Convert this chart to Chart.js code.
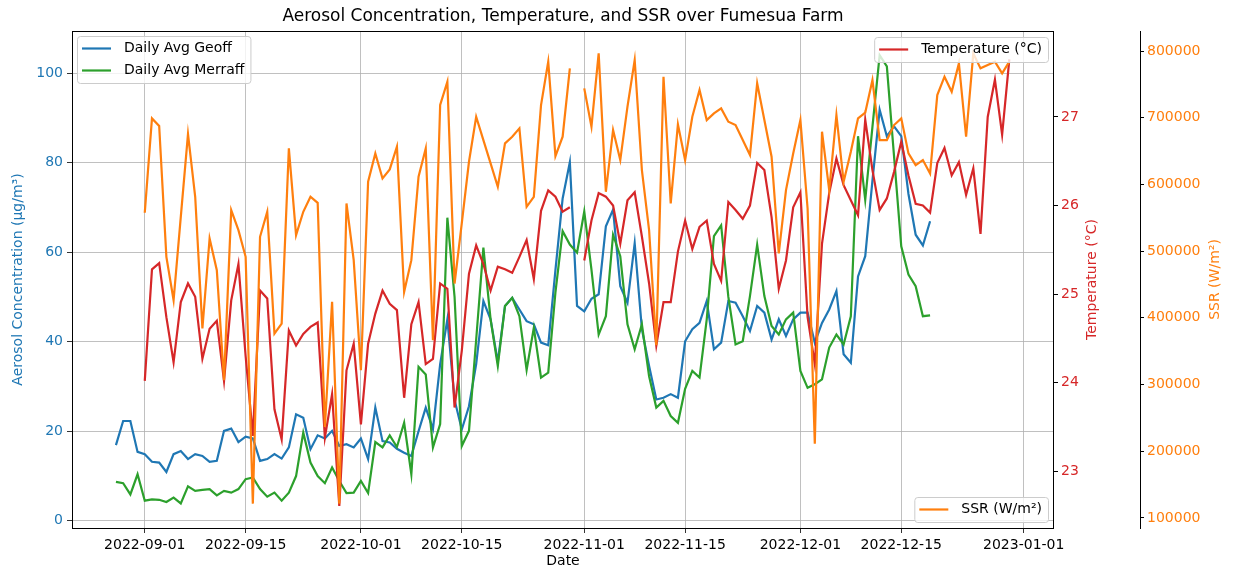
<!DOCTYPE html>
<html>
<head>
<meta charset="utf-8">
<script src="https://cdn.jsdelivr.net/npm/chart.js@4"></script>
<style>
  html, body { margin: 0; padding: 0; background: #fff; }
  #wrap { width: 1235px; height: 571px; position: relative; }
</style>
</head>
<body>
<div id="wrap"><canvas id="chart"></canvas></div>
<script>
// daily series
const aerosolStart = "2022-08-28";
const weatherStart = "2022-09-01";

const geoff = [
  16.9, 22.3, 22.3, 15.4, 14.9, 13.2, 13.0, 10.9, 14.9, 15.6,
  13.8, 14.9, 14.5, 13.2, 13.4, 20.1, 20.6, 17.6, 18.8, 18.4,
  13.4, 13.8, 14.9, 13.9, 16.4, 23.8, 23.0, 16.0, 19.1, 18.4,
  20.1, 16.7, 17.1, 16.4, 18.4, 13.8, 25.3, 17.8, 17.5, 16.1,
  15.2, 14.5, 20.0, 25.3, 20.5, 35.0, 45.0, 27.0, 20.4, 25.6,
  35.0, 49.1, 45.0, 35.5, 48.0, 49.8, 47.2, 44.6, 43.9, 39.8,
  39.2, 56.0, 72.0, 80.1, 48.0, 46.8, 49.6, 50.6, 65.8, 69.5,
  52.4, 48.7, 62.0, 42.8, 34.6, 27.1, 27.5, 28.3, 27.5, 40.1,
  42.8, 44.2, 49.1, 38.3, 39.8, 49.1, 48.7, 45.7, 42.4, 48.0,
  46.5, 40.5, 45.0, 41.3, 45.0, 46.5, 46.5, 39.8, 44.2, 47.2,
  51.3, 37.2, 35.3, 54.6, 59.1, 76.0, 91.8, 85.9, 88.1, 85.9,
  73.0, 63.9, 61.5, 66.9
];

const merraff = [
  8.7, 8.4, 5.9, 10.4, 4.5, 4.8, 4.7, 4.2, 5.2, 3.9,
  7.7, 6.7, 6.9, 7.1, 5.7, 6.7, 6.3, 7.1, 9.3, 9.7,
  7.1, 5.4, 6.3, 4.5, 6.3, 10.0, 19.7, 13.0, 10.0, 8.4,
  11.9, 8.9, 6.2, 6.3, 8.9, 6.2, 17.6, 16.4, 19.1, 16.5,
  21.9, 10.4, 34.4, 32.7, 16.4, 21.6, 67.7, 50.0, 16.7, 20.1,
  40.5, 61.0, 45.0, 34.6, 48.0, 49.8, 45.7, 33.7, 43.1, 32.0,
  33.1, 51.0, 64.7, 61.7, 59.9, 69.1, 56.1, 41.6, 45.7, 63.9,
  59.1, 43.9, 38.3, 43.9, 32.3, 25.3, 26.8, 23.4, 21.9, 29.5,
  33.5, 32.0, 45.0, 63.6, 66.0, 50.0, 39.4, 40.1, 50.2, 61.7,
  50.2, 43.5, 41.6, 45.0, 46.5, 33.5, 29.7, 30.5, 31.6, 38.7,
  41.6, 39.4, 45.7, 85.9, 71.7, 88.0, 104.0, 101.5, 81.4, 61.3,
  55.0, 52.4, 45.7, 45.9
];

const temperature = [
  24.02, 25.28, 25.35, 24.74, 24.23, 24.91, 25.12, 24.97, 24.27, 24.61,
  24.70, 24.02, 24.93, 25.34, 24.30, 23.40, 25.04, 24.95, 23.70, 23.36,
  24.59, 24.42, 24.55, 24.63, 24.68, 23.38, 23.87, 22.61, 24.14, 24.44,
  23.53, 24.44, 24.78, 25.04, 24.89, 24.82, 23.83, 24.66, 24.91, 24.21,
  24.27, 25.12, 25.06, 23.72, 24.36, 25.23, 25.55, 25.34, 25.04, 25.31,
  25.28, 25.24, 25.42, 25.61, 25.17, 25.94, 26.17, 26.10, 25.93, 25.98,
  null, 25.38, 25.83, 26.14, 26.10, 26.00, 25.57, 26.06, 26.15, 25.65,
  25.12, 24.42, 24.91, 24.91, 25.48, 25.83, 25.51, 25.76, 25.83, 25.34,
  25.15, 26.04, 25.95, 25.85, 26.00, 26.48, 26.40, 25.87, 25.06, 25.38,
  25.98, 26.15, 24.74, 24.21, 25.57, 26.14, 26.53, 26.23, 26.06, 25.89,
  26.97, 26.40, 25.95, 26.08, 26.38, 26.72, 26.34, 26.02, 26.00, 25.92,
  26.48, 26.65, 26.34, 26.49, 26.12, 26.42, 25.68, 27.00, 27.42, 26.80,
  27.65
];

const ssr = [
  557500, 699000, 687500, 491500, 426500, 551500, 675500, 581500, 384000, 519000,
  471500, 306500, 561500, 531500, 491500, 121500, 521500, 559000, 376500, 391500,
  654000, 524000, 559000, 581500, 572500, 236500, 424000, 121500, 571500, 486500,
  321500, 604000, 646500, 609000, 622500, 656500, 439000, 486500, 611500, 654000,
  366500, 719000, 754000, 451500, 541500, 634000, 701500, 666500, 631500, 596500,
  661500, 671500, 684000, 566500, 581500, 719000, 784000, 642500, 671500, 774000,
  null, 744000, 686500, 796500, 589000, 681500, 636500, 716500, 786500, 621500,
  531500, 359000, 761500, 571500, 690000, 636500, 701500, 741500, 696500, 706500,
  714000, 694000, 689000, 666500, 644000, 751500, 696500, 641500, 496500, 591500,
  646500, 696500, 564000, 211500, 679000, 591500, 704000, 604000, 649000, 699000,
  707500, 756500, 666500, 666500, 689000, 699000, 646500, 629000, 636500, 616500,
  734000, 761500, 739000, 781500, 671500, 796500, 774000, 779000, 784000, 766500,
  784000
];

const tickDates = ["2022-09-01", "2022-09-15", "2022-10-01", "2022-10-15", "2022-11-01",
  "2022-11-15", "2022-12-01", "2022-12-15", "2023-01-01"];
const aerosolTicks = [0, 20, 40, 60, 80, 100];
const tempTicks = [23, 24, 25, 26, 27];
const ssrTicks = [100000, 200000, 300000, 400000, 500000, 600000, 700000, 800000];

const BLUE = "#1f77b4", GREEN = "#2ca02c", RED = "#d62728", ORANGE = "#ff7f0e";
const FONT = "DejaVu Sans";

// x axis works in days counted from 2022-09-01
const dayNum = (s) => Date.UTC(+s.slice(0, 4), +s.slice(5, 7) - 1, +s.slice(8, 10)) / 86400000;
const origin = dayNum("2022-09-01");
const toPoints = (start, vals) => vals.map((v, i) => ({ x: dayNum(start) - origin + i, y: v }));
const tickDays = tickDates.map((d) => dayNum(d) - origin);

Chart.defaults.font.family = FONT;
Chart.defaults.font.size = 14;
Chart.defaults.color = "#000";

const setTicks = (values) => (scale) => {
  scale.ticks = values.map((v) => ({ value: v }));
};

// matplotlib-like boxed legends, three of them
const legendBoxes = {
  id: "legendBoxes",
  afterDraw(chart) {
    const { ctx, chartArea: a } = chart;
    const ds = chart.data.datasets;
    ctx.save();
    ctx.font = "14px '" + FONT + "'";
    const box = (idx, anchor) => {
      const tw = Math.max(...idx.map((i) => ctx.measureText(ds[i].label).width));
      const w = 47 + tw + 6;
      const h = 25 + (idx.length - 1) * 22;
      let x = a.left + 5, y = a.top + 5;
      if (anchor === "tr") { x = a.right - 6 - w; y = a.top + 6; }
      if (anchor === "br") { x = a.right - 6 - w; y = a.bottom - 6 - h; }
      ctx.beginPath();
      ctx.roundRect(x + 0.5, y + 0.5, w, h, 3);
      ctx.fillStyle = "rgba(255,255,255,0.8)";
      ctx.fill();
      ctx.strokeStyle = "#cccccc";
      ctx.lineWidth = 1;
      ctx.stroke();
      idx.forEach((i, r) => {
        const cy = y + 12.5 + r * 22;
        ctx.beginPath();
        ctx.moveTo(x + 5, cy);
        ctx.lineTo(x + 34, cy);
        ctx.strokeStyle = ds[i].borderColor;
        ctx.lineWidth = 2.2;
        ctx.stroke();
        ctx.fillStyle = "#000";
        ctx.textBaseline = "middle";
        ctx.textAlign = "left";
        ctx.fillText(ds[i].label, x + 47, cy);
      });
    };
    box([0, 1], "tl");
    box([2], "tr");
    box([3], "br");
    ctx.restore();
  }
};

// frame round the plot and the rotated titles of the right axes
const frameAndTitles = {
  id: "frameAndTitles",
  afterDatasetsDraw(chart) {
    const { ctx, chartArea: a } = chart;
    ctx.save();
    ctx.strokeStyle = "#000";
    ctx.lineWidth = 1;
    ctx.strokeRect(Math.round(a.left) + 0.5, Math.round(a.top) + 0.5,
      Math.round(a.right - a.left) - 1, Math.round(a.bottom - a.top));
    ctx.restore();
  },
  afterDraw(chart) {
    const { ctx, chartArea: a } = chart;
    const cy = (a.top + a.bottom) / 2;
    const side = [
      { scale: chart.scales.yTemp, dx: 38, text: "Temperature (°C)", color: RED },
      { scale: chart.scales.ySSR, dx: 75, text: "SSR (W/m²)", color: ORANGE }
    ];
    ctx.save();
    ctx.font = "14px '" + FONT + "'";
    side.forEach((s) => {
      ctx.save();
      ctx.translate(s.scale.left + s.dx, cy);
      ctx.rotate(-Math.PI / 2);
      ctx.fillStyle = s.color;
      ctx.textAlign = "center";
      ctx.textBaseline = "middle";
      ctx.fillText(s.text, 0, 0);
      ctx.restore();
    });
    ctx.restore();
  }
};

new Chart(document.getElementById("chart"), {
  type: "line",
  data: {
    datasets: [
      { label: "Daily Avg Geoff", data: toPoints(aerosolStart, geoff), yAxisID: "y",
        borderColor: BLUE, order: 3 },
      { label: "Daily Avg Merraff", data: toPoints(aerosolStart, merraff), yAxisID: "y",
        borderColor: GREEN, order: 2 },
      { label: "Temperature (°C)", data: toPoints(weatherStart, temperature), yAxisID: "yTemp",
        borderColor: RED, order: 1 },
      { label: "SSR (W/m²)", data: toPoints(weatherStart, ssr), yAxisID: "ySSR",
        borderColor: ORANGE, order: 0 }
    ]
  },
  options: {
    responsive: true,
    maintainAspectRatio: false,
    animation: false,
    layout: { padding: 0 },
    elements: {
      line: { borderWidth: 2.2, tension: 0, fill: false },
      point: { radius: 0, hoverRadius: 0 }
    },
    spanGaps: false,
    plugins: {
      legend: { display: false },
      tooltip: { enabled: false },
      title: {
        display: true,
        fullSize: false,
        text: "Aerosol Concentration, Temperature, and SSR over Fumesua Farm",
        font: { size: 17, weight: "normal" },
        color: "#000",
        padding: { top: 6, bottom: 4.6 }
      }
    },
    scales: {
      x: {
        type: "linear",
        min: -10.1,
        max: 126.2,
        afterBuildTicks: setTicks(tickDays),
        afterFit: (s) => { s.height = 43; },
        ticks: {
          autoSkip: false, maxRotation: 0, padding: 4, color: "#000",
          callback: (v, i) => tickDates[i]
        },
        grid: { color: "#b0b0b0", lineWidth: 0.8, tickColor: "#000", tickLength: 5 },
        border: { display: false },
        title: { display: true, text: "Date", color: "#000", padding: { top: 0, bottom: 1 } }
      },
      y: {
        position: "left",
        min: -1.6,
        max: 109.4,
        afterBuildTicks: setTicks(aerosolTicks),
        afterFit: (s) => { s.width = 72; },
        ticks: { color: BLUE, padding: 4, callback: (v) => String(v) },
        grid: { color: "#b0b0b0", lineWidth: 0.8, tickColor: "#000", tickLength: 5 },
        border: { display: false },
        title: { display: true, text: "Aerosol Concentration (µg/m³)", color: BLUE, padding: { top: 10 } }
      },
      yTemp: {
        position: "right",
        min: 22.36,
        max: 27.97,
        afterBuildTicks: setTicks(tempTicks),
        afterFit: (s) => { s.width = 86; },
        ticks: { color: RED, padding: 3, callback: (v) => String(v) },
        grid: { drawOnChartArea: false, tickColor: "#000", tickLength: 4 },
        border: { display: false }
      },
      ySSR: {
        position: "right",
        min: 85000,
        max: 830000,
        afterBuildTicks: setTicks(ssrTicks),
        afterFit: (s) => { s.width = 95; },
        ticks: { color: ORANGE, padding: 3, callback: (v) => String(v) },
        grid: { drawOnChartArea: false, tickColor: "#000", tickLength: 4 },
        border: { display: true, color: "#000", width: 1 }
      }
    }
  },
  plugins: [frameAndTitles, legendBoxes]
});
</script>
</body>
</html>
